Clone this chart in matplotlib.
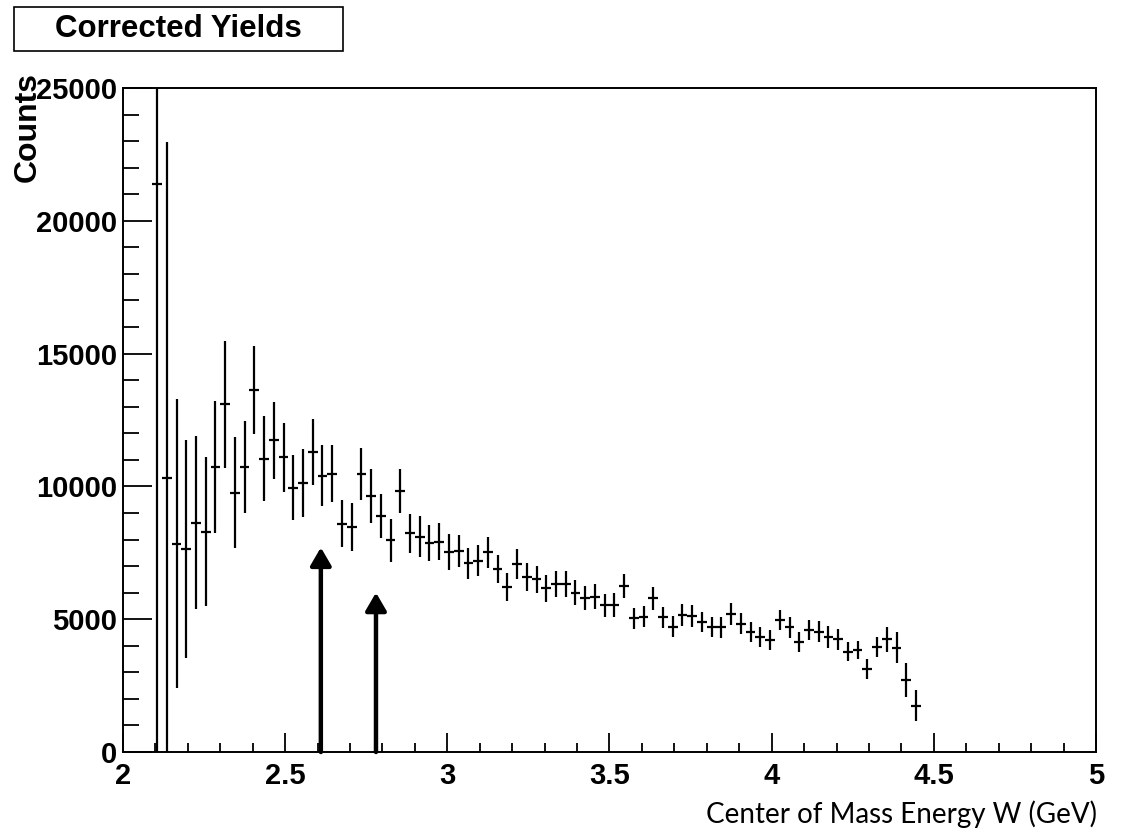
import numpy as np
import matplotlib
matplotlib.use("Agg")
import matplotlib.pyplot as plt
from matplotlib.patches import Rectangle
from matplotlib.ticker import MultipleLocator

# bin layout: 79 bins of 0.03 GeV starting at 2.09 GeV
bin_width = 0.03
first_center = 2.105

counts = [21400, 10300, 7850, 7650, 8630, 8300, 10740, 13090, 9770, 10740,
          13640, 11050, 11740, 11100, 9950, 10140, 11300, 10400, 10470, 8600,
          8480, 10470, 9640, 8880, 7980, 9830, 8230, 8110, 7860, 7920,
          7540, 7580, 7100, 7200, 7520, 6880, 6220, 7080, 6580, 6500,
          6160, 6330, 6330, 6000, 5790, 5850, 5530, 5530, 6250, 5030,
          5090, 5780, 5070, 4720, 5160, 5120, 4900, 4690, 4690, 5200,
          4820, 4530, 4340, 4220, 4970, 4690, 4150, 4590, 4530, 4320,
          4240, 3780, 3840, 3110, 3960, 4250, 3930, 2710, 1750]

errors = [25000, 12670, 5450, 4100, 3260, 2800, 2480, 2400, 2090, 1740,
          1650, 1600, 1450, 1300, 1230, 1280, 1230, 1150, 1070, 900,
          900, 970, 1000, 830, 810, 820, 730, 760, 670, 700,
          680, 600, 590, 590, 590, 530, 530, 560, 520, 510,
          500, 500, 500, 470, 460, 470, 430, 450, 470, 400,
          400, 430, 400, 400, 420, 400, 370, 376, 395, 400,
          395, 376, 376, 364, 390, 395, 376, 390, 395, 414,
          390, 357, 350, 380, 380, 470, 570, 630, 580]

# arrows marking the two W thresholds (position, arrow tip height)
arrow_x = [2.61, 2.78]
arrow_tip = [7700, 6000]

x_centers = first_center + bin_width * np.arange(len(counts))

W, H = 1125, 832
fig = plt.figure(figsize=(W / 100, H / 100), dpi=100, facecolor='white')
ax = fig.add_axes([123 / W, 1 - 752 / H, (1096 - 123) / W, (752 - 88) / H])

ax.errorbar(x_centers, counts, xerr=bin_width / 2, yerr=errors, fmt='none',
            ecolor='black', elinewidth=1.6, capsize=0)

for xa, ya in zip(arrow_x, arrow_tip):
    ax.annotate('', xy=(xa, ya), xytext=(xa, 0),
                arrowprops=dict(arrowstyle='-|>,head_length=0.6,head_width=0.35',
                                lw=3.2, color='black', mutation_scale=18,
                                shrinkA=0, shrinkB=0))

ax.set_xlim(2, 5)
ax.set_ylim(0, 25000)

for s in ax.spines.values():
    s.set_linewidth(1.4)

ax.xaxis.set_major_locator(MultipleLocator(0.5))
ax.xaxis.set_minor_locator(MultipleLocator(0.1))
ax.yaxis.set_major_locator(MultipleLocator(5000))
ax.yaxis.set_minor_locator(MultipleLocator(1000))
ax.xaxis.set_major_formatter(plt.FuncFormatter(lambda v, p: f'{v:g}'))
ax.yaxis.set_major_formatter(plt.FuncFormatter(lambda v, p: f'{v:.0f}'))

ax.tick_params(axis='x', which='major', direction='in', length=14, width=1.3, pad=7)
ax.tick_params(axis='x', which='minor', direction='in', length=6.5, width=1.3)
ax.tick_params(axis='y', which='major', direction='in', length=21, width=1.3, pad=4)
ax.tick_params(axis='y', which='minor', direction='in', length=11.5, width=1.3)
for lab in ax.get_xticklabels() + ax.get_yticklabels():
    lab.set_fontfamily('Liberation Sans')
    lab.set_fontweight('bold')
    lab.set_fontsize(21)

# y title sits at the top of the axis, ROOT style
fig.text(27.5 / W, 1 - 72 / H, 'Counts', rotation=90, ha='center', va='top',
         fontsize=23, fontweight='bold', family='Liberation Sans')

# title box
fig.add_artist(Rectangle((14 / W, 1 - 51 / H), (343 - 14) / W, 44 / H,
                         transform=fig.transFigure, facecolor='white',
                         edgecolor='black', linewidth=1.2))
fig.text(178 / W, 1 - 29 / H, 'Corrected Yields', ha='center', va='center',
         fontsize=22.5, fontweight='bold', family='Liberation Sans')

# x label added below the frame
fig.text(1097 / W, 1 - 814 / H, 'Center of Mass Energy W (GeV)', ha='right',
         va='center', fontsize=20, family='Lato')

fig.savefig('out.png', dpi=100, facecolor='white')
